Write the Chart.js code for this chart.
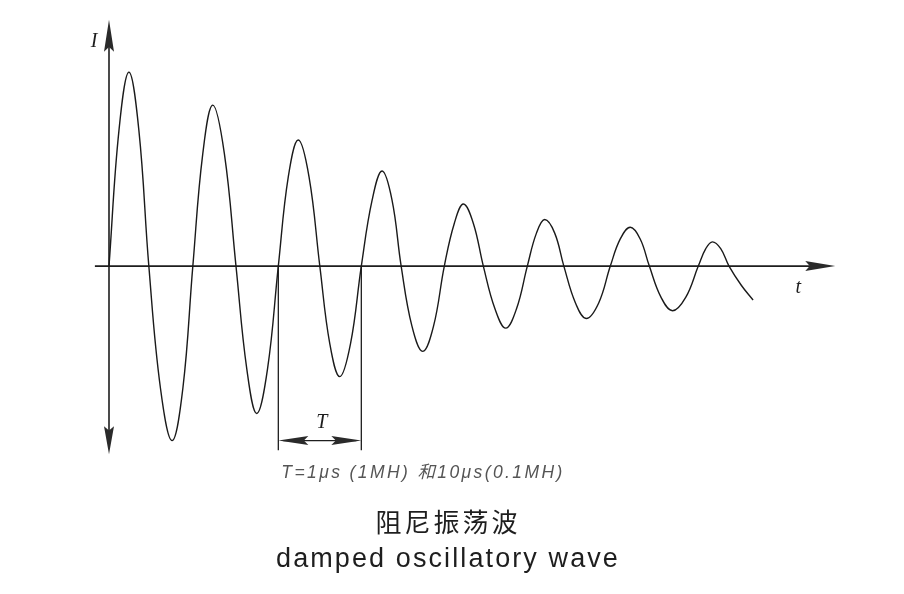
<!DOCTYPE html>
<html>
<head>
<meta charset="utf-8">
<script src="https://cdn.jsdelivr.net/npm/chart.js@4/dist/chart.umd.min.js"></script>
<style>
    html, body { margin: 0; padding: 0; background: #fff; }
    canvas { display: block; }
</style>
</head>
<body>
<canvas id="graficoOnda" width="904" height="594"></canvas>
<script>
// tiempo en periodos T, corriente relativa al primer pico
const tiempos = [0,
    0.12, 0.24, 0.36, 0.48,  0.62, 0.76, 0.89, 1.01,  1.13, 1.25, 1.39, 1.53,  1.66, 1.78, 1.91, 2.04,
    2.16, 2.28, 2.41, 2.54,  2.66, 2.78, 2.91, 3.04,  3.17, 3.29, 3.41, 3.52,  3.65, 3.78, 3.91, 4.04,
    4.16, 4.27, 4.39, 4.51,  4.65, 4.78, 4.91, 5.04,  5.15, 5.25, 5.37, 5.48,  5.62, 5.75, 5.90, 6.04,
    6.16, 6.28, 6.40, 6.51,  6.65, 6.79, 6.95, 7.10,  7.19, 7.27, 7.37, 7.47,  7.62, 7.76];
const corriente = [0,
    0.70, 1.00, 0.70, 0,  -0.63, -0.90, -0.63, 0,  0.58, 0.83, 0.58, 0,  -0.53, -0.76, -0.53, 0,
    0.46, 0.65, 0.46, 0,  -0.40, -0.57, -0.40, 0,  0.34, 0.49, 0.34, 0,  -0.31, -0.44, -0.31, 0,
    0.22, 0.32, 0.22, 0,  -0.22, -0.32, -0.22, 0,  0.17, 0.24, 0.17, 0,  -0.19, -0.27, -0.19, 0,
    0.14, 0.20, 0.14, 0,  -0.16, -0.23, -0.16, 0,  0.09, 0.125, 0.09, 0,  -0.10, -0.175];

const ejeT = [-0.17, 8.75];
const ejeI = [-0.97, 1.27];
const periodoMarca = [2.04, 3.04];
const nivelMarca = [-0.95, -0.90, -0.81];

const textoPeriodo = 'T=1μs (1MH) 和10μs(0.1MH)';
const tituloChino = '阻尼振荡波';
const tituloIngles = 'damped oscillatory wave';

function flecha(ctx, x, y, ang, largo, ancho) {
    ctx.save();
    ctx.translate(x, y);
    ctx.rotate(ang);
    ctx.beginPath();
    ctx.moveTo(0, 0);
    ctx.lineTo(-largo, ancho);
    ctx.lineTo(-largo * 0.85, 0);
    ctx.lineTo(-largo, -ancho);
    ctx.closePath();
    ctx.fill();
    ctx.restore();
}

const dibujoEjes = {
    id: 'dibujoEjes',
    beforeDatasetsDraw(chart) {
        const ctx = chart.ctx;
        const sx = chart.scales.x, sy = chart.scales.y;
        const x0 = sx.getPixelForValue(0), y0 = sy.getPixelForValue(0);
        const xa = sx.getPixelForValue(ejeT[0]), xb = sx.getPixelForValue(ejeT[1]);
        const ya = sy.getPixelForValue(ejeI[1]), yb = sy.getPixelForValue(ejeI[0]);
        ctx.save();
        ctx.strokeStyle = '#1e1e1e';
        ctx.fillStyle = '#2a2a2a';
        ctx.lineWidth = 1.6;
        ctx.beginPath();
        ctx.moveTo(xa, y0); ctx.lineTo(xb - 10, y0);
        ctx.moveTo(x0, ya + 10); ctx.lineTo(x0, yb - 10);
        ctx.stroke();
        flecha(ctx, xb, y0, 0, 30, 5);
        flecha(ctx, x0, ya, -Math.PI / 2, 32, 5);
        flecha(ctx, x0, yb, Math.PI / 2, 28, 5);

        // marca del periodo T
        const m1 = sx.getPixelForValue(periodoMarca[0]);
        const m2 = sx.getPixelForValue(periodoMarca[1]);
        const yl = sy.getPixelForValue(nivelMarca[0]);
        const yf = sy.getPixelForValue(nivelMarca[1]);
        ctx.lineWidth = 1.3;
        ctx.beginPath();
        ctx.moveTo(m1, y0); ctx.lineTo(m1, yl);
        ctx.moveTo(m2, y0); ctx.lineTo(m2, yl);
        ctx.moveTo(m1 + 5, yf); ctx.lineTo(m2 - 5, yf);
        ctx.stroke();
        flecha(ctx, m1, yf, Math.PI, 30, 4.5);
        flecha(ctx, m2, yf, 0, 30, 4.5);
        ctx.restore();
    },
    afterDraw(chart) {
        const ctx = chart.ctx;
        const sx = chart.scales.x, sy = chart.scales.y;
        const x0 = sx.getPixelForValue(0), y0 = sy.getPixelForValue(0);
        ctx.save();
        ctx.fillStyle = '#1e1e1e';
        ctx.textAlign = 'center';
        ctx.textBaseline = 'middle';
        ctx.font = 'italic 20px "Liberation Serif"';
        ctx.fillText('I', x0 - 15, sy.getPixelForValue(ejeI[1]) + 22);
        ctx.fillText('t', sx.getPixelForValue(ejeT[1]) - 37, y0 + 22);
        ctx.fillText('T', (sx.getPixelForValue(periodoMarca[0]) + sx.getPixelForValue(periodoMarca[1])) / 2 + 2,
            sy.getPixelForValue(nivelMarca[2]));

        ctx.fillStyle = '#555';
        ctx.font = 'italic 17.5px "Liberation Sans", "Noto Sans CJK SC"';
        ctx.letterSpacing = '2.4px';
        ctx.fillText(textoPeriodo, 423, 473);

        ctx.fillStyle = '#1e1e1e';
        ctx.font = '26px "Noto Sans CJK SC"';
        ctx.letterSpacing = '3px';
        ctx.fillText(tituloChino, 448, 522);
        ctx.font = '27px "Liberation Sans"';
        ctx.letterSpacing = '2.1px';
        ctx.fillText(tituloIngles, 448, 560);
        ctx.restore();
    }
};

new Chart(document.getElementById('graficoOnda'), {
    type: 'line',
    data: {
        datasets: [{
            data: tiempos.map(function (t, i) { return { x: t, y: corriente[i] }; }),
            borderColor: '#1a1a1a',
            borderWidth: 1.4,
            pointRadius: 0,
            tension: 0.4,
            fill: false
        }]
    },
    options: {
        responsive: false,
        animation: false,
        layout: {
            padding: { top: 14, bottom: 134, left: 26, right: 48 }
        },
        scales: {
            x: { type: 'linear', min: -1, max: 9, display: false },
            y: { min: -1, max: 1.3, display: false }
        },
        plugins: {
            legend: { display: false },
            tooltip: { enabled: false }
        }
    },
    plugins: [dibujoEjes]
});
</script>
</body>
</html>
